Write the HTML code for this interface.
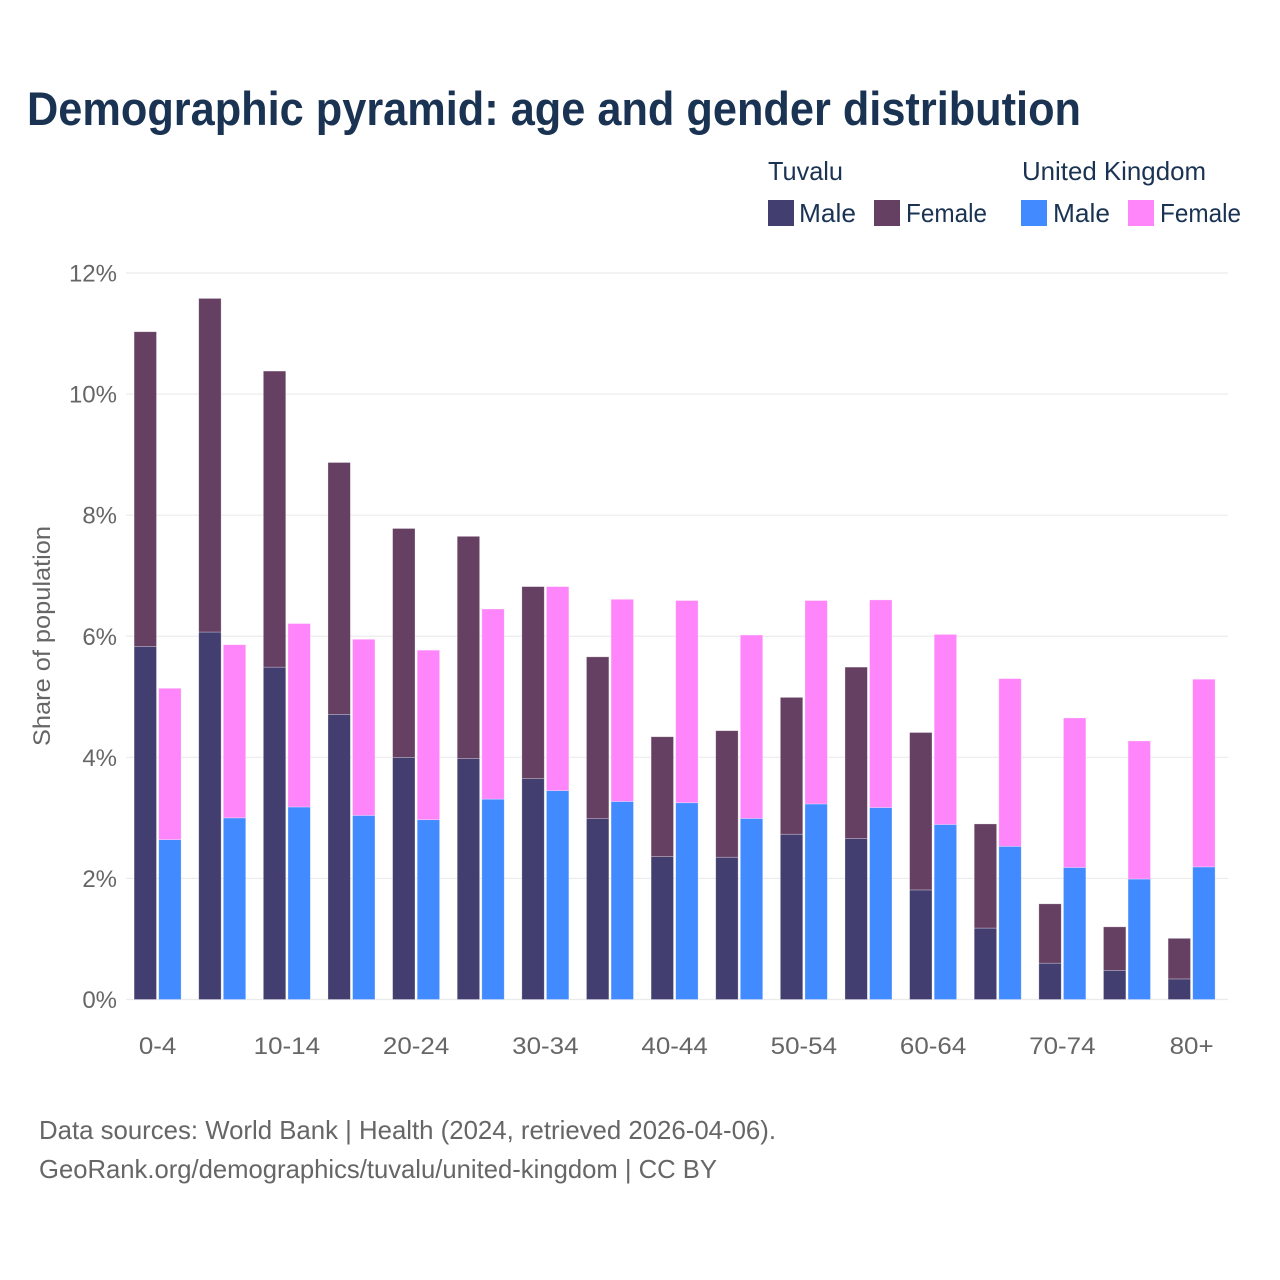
<!DOCTYPE html>
<html lang="en">
<head>
<meta charset="utf-8">
<title>Demographic pyramid</title>
<style>
html,body{margin:0;padding:0;background:#fff;}
svg{display:block;font-family:"Liberation Sans",sans-serif;}
</style>
</head>
<body>
<svg id="chart" xmlns="http://www.w3.org/2000/svg" width="1280" height="1280" viewBox="0 0 1280 1280">
  <rect x="0" y="0" width="1280" height="1280" fill="#fff"/>
  <text x="27" y="125" font-size="47" font-weight="700" fill="#1a3353" textLength="1054" lengthAdjust="spacingAndGlyphs">Demographic pyramid: age and gender distribution</text>

  <g font-size="26" fill="#1a3353">
    <text x="768" y="180" textLength="75" lengthAdjust="spacingAndGlyphs">Tuvalu</text>
    <text x="1022" y="180" textLength="184" lengthAdjust="spacingAndGlyphs">United Kingdom</text>
    <rect x="768" y="200" width="26" height="26" fill="#433e70"/>
    <text x="799" y="222" textLength="57" lengthAdjust="spacingAndGlyphs">Male</text>
    <rect x="874" y="200" width="26" height="26" fill="#664062"/>
    <text x="906" y="222" textLength="81" lengthAdjust="spacingAndGlyphs">Female</text>
    <rect x="1021" y="200" width="26" height="26" fill="#428aff"/>
    <text x="1053" y="222" textLength="57" lengthAdjust="spacingAndGlyphs">Male</text>
    <rect x="1128" y="200" width="26" height="26" fill="#ff85fa"/>
    <text x="1160" y="222" textLength="81" lengthAdjust="spacingAndGlyphs">Female</text>
  </g>

  <g id="grid"></g>
  <g id="y-ticks" font-size="24" fill="#666"></g>
  <g id="bars"></g>
  <g id="x-ticks" font-size="24" fill="#666"></g>

  <text transform="translate(50,636) rotate(-90)" text-anchor="middle" font-size="24" fill="#666" textLength="220" lengthAdjust="spacingAndGlyphs">Share of population</text>

  <text x="39" y="1139" font-size="26" fill="#666" textLength="737" lengthAdjust="spacingAndGlyphs">Data sources: World Bank | Health (2024, retrieved 2026-04-06).</text>
  <text x="39" y="1178" font-size="26" fill="#666" textLength="678" lengthAdjust="spacingAndGlyphs">GeoRank.org/demographics/tuvalu/united-kingdom | CC BY</text>
</svg>
<script>
const categories = ["0-4","5-9","10-14","15-19","20-24","25-29","30-34","35-39","40-44","45-49","50-54","55-59","60-64","65-69","70-74","75-79","80+"];
const tuvaluMale = [5.83,6.07,5.49,4.71,4.00,3.98,3.65,2.99,2.36,2.35,2.73,2.66,1.81,1.18,0.60,0.48,0.34];
const tuvaluFemale = [5.20,5.51,4.89,4.16,3.78,3.67,3.17,2.67,1.98,2.09,2.26,2.83,2.60,1.72,0.98,0.72,0.67];
const ukMale = [2.64,3.00,3.18,3.04,2.97,3.31,3.45,3.27,3.25,2.99,3.23,3.17,2.89,2.53,2.18,1.99,2.19];
const ukFemale = [2.50,2.86,3.03,2.91,2.80,3.14,3.37,3.34,3.34,3.03,3.36,3.43,3.14,2.77,2.47,2.28,3.10];
const yTickValues = [0,2,4,6,8,10,12];
const xTickLabels = ["0-4","10-14","20-24","30-34","40-44","50-54","60-64","70-74","80+"];

const NS = "http://www.w3.org/2000/svg";
const plotLeft = 126, plotRight = 1228, y0 = 999.5, y12 = 273;
const firstCenter = 157.6, step = 64.625, barW = 22.4, barGap = 2.2;

function yScale(v){ return y0 - (v / 12) * (y0 - y12); }
function xCenter(i){ return firstCenter + i * step; }

const gridG = document.getElementById("grid");
const yG = document.getElementById("y-ticks");
const barsG = document.getElementById("bars");
const xG = document.getElementById("x-ticks");

yTickValues.forEach(function(v){
  const line = document.createElementNS(NS, "line");
  
  
  line.setAttribute("x1", plotLeft);
  line.setAttribute("x2", plotRight);
  line.setAttribute("y1", yScale(v));
  line.setAttribute("y2", yScale(v));
  line.setAttribute("stroke", "#ebebeb");
  line.setAttribute("stroke-width", "1.2");
  gridG.appendChild(line);

  const t = document.createElementNS(NS, "text");
  
  
  t.setAttribute("x", 117);
  t.setAttribute("y", yScale(v) + 8.5);
  t.setAttribute("text-anchor", "end");
  t.textContent = v + "%";
  yG.appendChild(t);
});

function addBar(name, x, vBase, v, fill){
  const top = yScale(vBase + v);
  const bottom = yScale(vBase);
  const r = document.createElementNS(NS, "rect");
  
  
  r.setAttribute("x", x);
  r.setAttribute("y", top);
  r.setAttribute("width", barW);
  r.setAttribute("height", bottom - top);
  r.setAttribute("fill", fill);
  r.setAttribute("stroke", "#ffffff");
  r.setAttribute("stroke-opacity", "0.4");
  r.setAttribute("stroke-width", "0.7");
  barsG.appendChild(r);
}

categories.forEach(function(c, i){
  const cx = xCenter(i);
  const xA = cx - barW - barGap / 2;
  const xB = cx + barGap / 2;
  addBar("bar-tuvalu-male-" + c, xA, 0, tuvaluMale[i], "#433e70");
  addBar("bar-tuvalu-female-" + c, xA, tuvaluMale[i], tuvaluFemale[i], "#664062");
  addBar("bar-uk-male-" + c, xB, 0, ukMale[i], "#428aff");
  addBar("bar-uk-female-" + c, xB, ukMale[i], ukFemale[i], "#ff85fa");
});

xTickLabels.forEach(function(label){
  const i = categories.indexOf(label);
  const t = document.createElementNS(NS, "text");
  
  
  t.setAttribute("x", xCenter(i));
  t.setAttribute("y", 1054);
  t.setAttribute("text-anchor", "middle");
  t.textContent = label;
  xG.appendChild(t);
  const natural = t.getComputedTextLength();
  if (natural > 0) {
    t.setAttribute("textLength", (natural * 1.08).toFixed(1));
    t.setAttribute("lengthAdjust", "spacingAndGlyphs");
  }
});
</script>
</body>
</html>
